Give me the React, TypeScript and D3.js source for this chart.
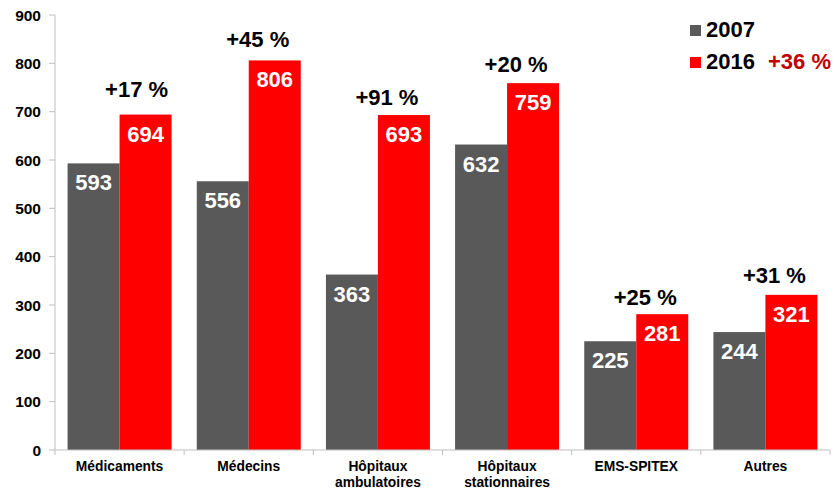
import React from "react";
import * as d3 from "d3";

const categories = [
  ["Médicaments"],
  ["Médecins"],
  ["Hôpitaux", "ambulatoires"],
  ["Hôpitaux", "stationnaires"],
  ["EMS-SPITEX"],
  ["Autres"],
];
const values2007 = [593, 556, 363, 632, 225, 244];
const values2016 = [694, 806, 693, 759, 281, 321];
const growthLabels = ["+17 %", "+45 %", "+91 %", "+20 %", "+25 %", "+31 %"];
const yTicks = [0, 100, 200, 300, 400, 500, 600, 700, 800, 900];
const seriesNames = ["2007", "2016"];
const totalGrowth = "+36 %";

const W = 836;
const H = 491;
const FONT = "'Liberation Sans', Arial, sans-serif";
const GRAY = "#595959";
const RED = "#ff0000";

// small manual nudges of growth labels (layout only)
const growthDy = [-18, -13, -10, -11, -9, -12];
const growthDx = [8, 0, 0, 0, 0, 0];

export default function App() {
  const left = 55;
  const right = 830;
  const y = d3.scaleLinear().domain([0, 900]).range([450, 15]);
  const keys = categories.map((c) => c.join(" "));
  const x0 = d3.scaleBand<string>().domain(keys).range([left, right]).padding(0);
  const bw = x0.bandwidth();
  const x1 = d3
    .scaleBand<string>()
    .domain(seriesNames)
    .range([0, bw])
    .paddingInner(0)
    .paddingOuter(0.242);
  const barW = x1.bandwidth();

  return (
    <svg
      width={W}
      height={H}
      style={{ position: "absolute", left: 0, top: 0, background: "#fff" }}
      fontFamily={FONT}
    >
      <rect width={W} height={H} fill="#fff" />
      <line x1={left} x2={left} y1={y(900)} y2={y(0)} stroke="#bfbfbf" strokeWidth={1} />
      {yTicks.map((t) => (
        <g key={t}>
          <line x1={left - 6} x2={left} y1={y(t)} y2={y(t)} stroke="#bfbfbf" />
          <text
            x={41}
            y={y(t)}
            dy="0.36em"
            textAnchor="end"
            fontSize={15.5}
            fontWeight="bold"
            fill="#000"
          >
            {t}
          </text>
        </g>
      ))}
      {keys.map((k, i) => {
        const gx = x0(k)!;
        const v = [values2007[i], values2016[i]];
        return (
          <g key={k}>
            {seriesNames.map((s, j) => {
              const bx = gx + x1(s)!;
              const top = y(v[j]);
              return (
                <g key={s}>
                  <rect
                    x={bx}
                    y={top}
                    width={barW}
                    height={y(0) - top}
                    fill={j === 0 ? GRAY : RED}
                  />
                  <text
                    x={bx + barW / 2}
                    y={top + 27}
                    textAnchor="middle"
                    fontSize={22}
                    fontWeight="bold"
                    fill="#fff"
                  >
                    {v[j]}
                  </text>
                </g>
              );
            })}
            <text
              x={gx + x1("2016")! + barW / 2 - 17 + growthDx[i]}
              y={y(values2016[i]) + growthDy[i]}
              textAnchor="middle"
              fontSize={22}
              fontWeight="bold"
              fill="#000"
            >
              {growthLabels[i]}
            </text>
          </g>
        );
      })}
      <line x1={left} x2={right} y1={y(0)} y2={y(0)} stroke="#bfbfbf" strokeWidth={1} />
      {keys.map((k) => (
        <line
          key={"t" + k}
          x1={x0(k)!}
          x2={x0(k)!}
          y1={y(0)}
          y2={y(0) + 5}
          stroke="#bfbfbf"
        />
      ))}
      <line x1={right} x2={right} y1={y(0)} y2={y(0) + 5} stroke="#bfbfbf" />
      {categories.map((lines, i) => (
        <text
          key={"c" + i}
          x={x0(keys[i])! + bw / 2}
          y={471}
          textAnchor="middle"
          fontSize={13.8}
          fontWeight="bold"
          fill="#000"
        >
          {lines.map((l, j) => (
            <tspan key={j} x={x0(keys[i])! + bw / 2} dy={j === 0 ? 0 : 16}>
              {l}
            </tspan>
          ))}
        </text>
      ))}
      <rect x={690} y={25} width={11} height={11} fill={GRAY} />
      <text x={706} y={37} fontSize={22} fontWeight="bold" fill="#000">
        {seriesNames[0]}
      </text>
      <rect x={690} y={57} width={11} height={11} fill={RED} />
      <text x={706} y={69} fontSize={22} fontWeight="bold" fill="#000">
        {seriesNames[1]}
      </text>
      <text x={768} y={69} fontSize={22} fontWeight="bold" fill="#c00000">
        {totalGrowth}
      </text>
    </svg>
  );
}
